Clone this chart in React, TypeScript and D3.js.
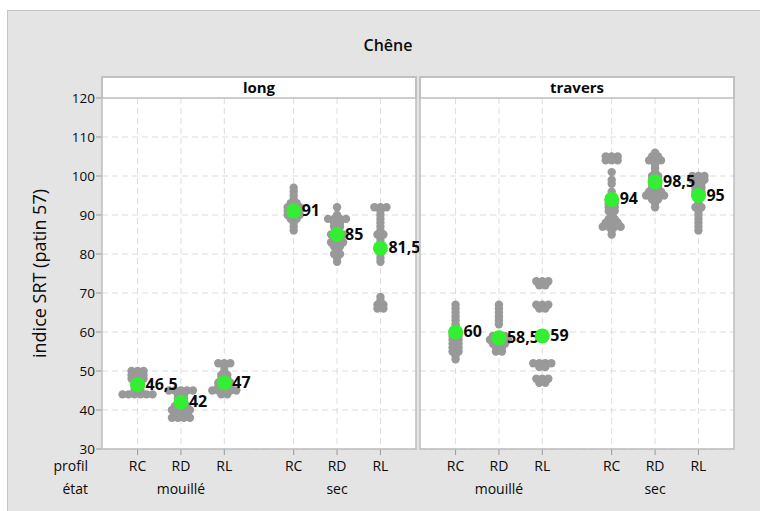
import * as d3 from 'd3';

// Individual values (indice SRT, patin 57)
const panels = ['long', 'travers'];
const etats = ['mouillé', 'sec'];
const profils = ['RC', 'RD', 'RL'];

// order: panel -> état -> profil
const longMouille = [
  [44, 44, 44, 44, 44, 44, 45, 45, 46, 46, 47, 47, 48, 48, 48, 49, 49, 49, 50, 50, 50],
  [45, 45, 45, 45, 45, 44, 44, 43, 43, 42, 41, 41, 41, 40, 40, 40, 40, 39, 39, 39, 38, 38, 38, 38],
  [52, 52, 52, 51, 50, 49, 49, 48, 48, 47, 47, 47, 46, 46, 46, 45, 45, 45, 45, 45, 44, 44],
];
const longSec = [
  [97, 96, 95, 94, 93, 93, 92, 92, 92, 91, 91, 91, 90, 90, 90, 89, 89, 88, 87, 86],
  [92, 90, 89, 89, 89, 89, 88, 88, 87, 87, 86, 85, 85, 85, 84, 84, 83, 83, 83, 82, 82, 81, 80, 80, 79, 78],
  [92, 92, 92, 91, 90, 89, 88, 87, 86, 85, 85, 84, 83, 82, 81, 80, 79, 78, 69, 68, 67, 67, 66, 66],
];
const traversMouille = [
  [67, 66, 65, 64, 63, 62, 61, 60, 60, 59, 59, 58, 58, 57, 57, 56, 56, 55, 55, 54, 53],
  [67, 66, 65, 64, 63, 62, 59, 59, 59, 58, 58, 58, 58, 57, 57, 57, 56, 56, 55, 55],
  [73, 73, 73, 72, 72, 67, 67, 67, 66, 66, 59, 52, 52, 52, 52, 51, 51, 48, 48, 48, 47, 47],
];
const traversSec = [
  [105, 105, 105, 104, 104, 104, 101, 99, 98, 96, 95, 94, 93, 93, 92, 92, 91, 91, 90, 89, 89, 88, 88, 88, 87, 87, 87, 87, 86, 85],
  [106, 105, 105, 104, 104, 104, 103, 102, 101, 100, 100, 99, 99, 98, 98, 97, 97, 96, 96, 96, 95, 95, 95, 95, 94, 94, 93, 92],
  [100, 100, 100, 99, 99, 99, 98, 98, 97, 97, 96, 96, 95, 95, 94, 93, 92, 92, 91, 90, 89, 88, 87, 86],
];

const values = [
  [longMouille, longSec],
  [traversMouille, traversSec],
];

// means shown in green, with their labels
const meanValues = [
  [[46.5, 42, 47], [91, 85, 81.5]],
  [[60, 58.5, 59], [94, 98.5, 95]],
];
const meanLabels = [
  [['46,5', '42', '47'], ['91', '85', '81,5']],
  [['60', '58,5', '59'], ['94', '98,5', '95']],
];

const yTicks = [30, 40, 50, 60, 70, 80, 90, 100, 110, 120];

const W = 760;
const H = 511;
const font = '"Open Sans", "DejaVu Sans", sans-serif';
const plotTop = 98;
const plotBottom = 449;
const headerTop = 77;
const panelX = [
  [102, 416],
  [420, 734],
];
const ink = '#0a0a0a';

const y = d3.scaleLinear().domain([30, 120]).range([plotBottom, plotTop]);

function slot(etatIdx: number, profIdx: number) {
  return profIdx + etatIdx * 3.6;
}

function swarm(vals: number[]) {
  const counts = d3.rollup(vals, (v) => v.length, (d) => d);
  const seen = new Map<number, number>();
  return vals.map((v) => {
    const n = counts.get(v) || 1;
    const k = seen.get(v) || 0;
    seen.set(v, k + 1);
    return { v, dx: (k - (n - 1) / 2) * 6 };
  });
}

export default function App() {
  return (
    <svg
      width={W}
      height={H}
      style={{ position: 'absolute', left: 0, top: 0, background: '#fff' }}
      fontFamily={font}
    >
      <rect x={7.5} y={10.5} width={W} height={H} fill="#e4e4e4" stroke="#c6c6c6" />
      <text x={388} y={51} textAnchor="middle" fontSize={16} fontWeight={600} fill={ink}>
        Chêne
      </text>
      <text
        transform={`translate(46,${(plotTop + plotBottom) / 2}) rotate(-90)`}
        textAnchor="middle"
        fontSize={18}
        fill={ink}
      >
        indice SRT (patin 57)
      </text>

      {/* y axis */}
      {yTicks.map((t) => (
        <g key={t}>
          <line x1={96} x2={102} y1={y(t)} y2={y(t)} stroke="#999" />
          <text x={95} y={y(t) + 5} textAnchor="end" fontSize={13.5} fill={ink}>
            {t}
          </text>
        </g>
      ))}

      <text x={88} y={471} textAnchor="end" fontSize={14} fill={ink}>
        profil
      </text>
      <text x={88} y={494} textAnchor="end" fontSize={14} fill={ink}>
        état
      </text>

      {panels.map((p, pi) => {
        const [x0, x1] = panelX[pi];
        const x = d3.scaleLinear().domain([-0.82, 6.42]).range([x0, x1]);
        return (
          <g key={p}>
            <rect x={x0} y={headerTop} width={x1 - x0} height={plotBottom - headerTop} fill="#fff" />
            {yTicks.slice(0, -1).map((t) => (
              <line
                key={t}
                x1={x0}
                x2={x1}
                y1={y(t)}
                y2={y(t)}
                stroke="#dcdcdc"
                strokeDasharray="6,4"
              />
            ))}
            {etats.map((e, ei) =>
              profils.map((pr, ri) => {
                const cx = x(slot(ei, ri));
                return (
                  <g key={e + pr}>
                    <line
                      x1={cx}
                      x2={cx}
                      y1={plotTop}
                      y2={plotBottom}
                      stroke="#dcdcdc"
                      strokeDasharray="6,4"
                    />
                    <line x1={cx} x2={cx} y1={plotBottom} y2={plotBottom + 6} stroke="#999" />
                    <text x={cx} y={471} textAnchor="middle" fontSize={14} fill={ink}>
                      {pr}
                    </text>
                  </g>
                );
              })
            )}
            {etats.map((e, ei) => (
              <text
                key={e}
                x={x(slot(ei, 1))}
                y={494}
                textAnchor="middle"
                fontSize={14}
                fill={ink}
              >
                {e}
              </text>
            ))}
            {/* header */}
            <rect
              x={x0}
              y={headerTop}
              width={x1 - x0}
              height={plotTop - headerTop}
              fill="#fff"
              stroke="#bdbdbd"
              strokeWidth={1.5}
            />
            <text
              x={(x0 + x1) / 2}
              y={93}
              textAnchor="middle"
              fontSize={15}
              fontWeight={700}
              fill={ink}
            >
              {p}
            </text>
            <rect
              x={x0}
              y={headerTop}
              width={x1 - x0}
              height={plotBottom - headerTop}
              fill="none"
              stroke="#bdbdbd"
              strokeWidth={1.5}
            />
            {/* individual values */}
            {etats.map((e, ei) =>
              profils.map((pr, ri) => {
                const cx = x(slot(ei, ri));
                return (
                  <g key={'d' + e + pr}>
                    {swarm(values[pi][ei][ri]).map((d, i) => (
                      <circle key={i} cx={cx + d.dx} cy={y(d.v)} r={4.2} fill="#999999" />
                    ))}
                  </g>
                );
              })
            )}
            {/* means */}
            {etats.map((e, ei) =>
              profils.map((pr, ri) => {
                const cx = x(slot(ei, ri));
                const m = meanValues[pi][ei][ri];
                return (
                  <g key={'m' + e + pr}>
                    <circle cx={cx} cy={y(m)} r={7.5} fill="#33ee33" />
                    <text
                      x={cx + 8}
                      y={y(m) + 5}
                      fontSize={16}
                      fontWeight={700}
                      fill={ink}
                    >
                      {meanLabels[pi][ei][ri]}
                    </text>
                  </g>
                );
              })
            )}
          </g>
        );
      })}
    </svg>
  );
}
